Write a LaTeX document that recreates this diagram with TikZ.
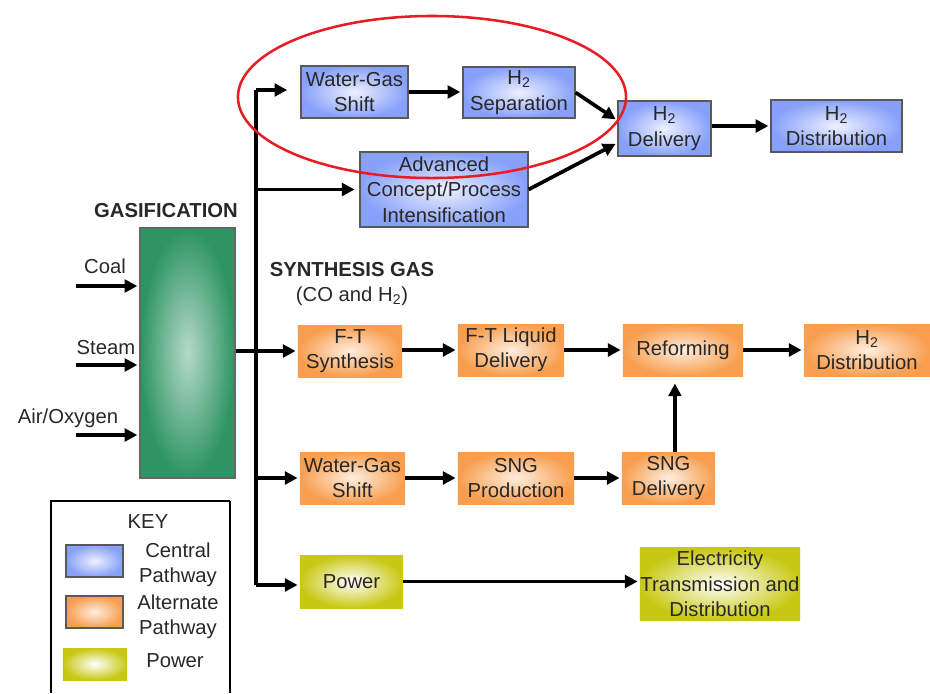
\documentclass[tikz,border=0pt]{standalone}
\usepackage{fontspec}
\setmainfont{Liberation Sans}
\usepackage{tikz}
\usetikzlibrary{shapes,arrows,arrows.meta,positioning,calc}
\usepackage{xcolor}
\definecolor{pathblue}{RGB}{135,160,250}
\definecolor{pathorange}{RGB}{248,158,78}
\definecolor{pathyellow}{RGB}{200,200,20}
\definecolor{gasgreen}{RGB}{45,148,98}
\definecolor{ringred}{RGB}{232,28,36}
\definecolor{textgray}{RGB}{40,40,40}

\tikzset{
    central/.style={rectangle,draw=black!65,line width=0.8pt,inner color=white!85!pathblue,outer color=pathblue,align=center,inner sep=0pt},
    alternate/.style={rectangle,inner color=white!82!pathorange,outer color=pathorange,align=center,inner sep=0pt},
    powerbox/.style={rectangle,inner color=white,outer color=pathyellow,align=center,inner sep=0pt},
    gasifier/.style={rectangle,draw=black!60,line width=0.8pt,inner color=white!65!gasgreen,outer color=gasgreen},
    flow/.style={line width=2.6pt,shorten >=1.5pt,-{Triangle[length=9pt,width=9pt]}},
    pipe/.style={line width=2.6pt},
    heading/.style={font=\fontsize{14.4}{18}\selectfont\bfseries}
}

\begin{document}
\begin{tikzpicture}[x=0.025cm,y=-0.025cm,every node/.style={font=\fontsize{14.4}{18}\selectfont,text=textgray}]
        \useasboundingbox (0,0) rectangle (930,693);

        % Gasifier and feeds
        \node[heading] (gastitle) at (166,211) {GASIFICATION};
        \node[gasifier,minimum width=2.375cm,minimum height=6.25cm] (gas) at (187.5,353) {};
        \coordinate (coal) at (76,286);
        \coordinate (steam) at (76,365);
        \coordinate (air) at (76,435);
        \node (coallbl) at (105,266) {Coal};
        \node (steamlbl) at (106,348) {Steam};
        \node (airlbl) at (68,418) {Air/Oxygen};
        \draw[flow] (coal) -- (coal -| gas.west);
        \draw[flow] (steam) -- (steam -| gas.west);
        \draw[flow] (air) -- (air -| gas.west);

        % Synthesis gas header
        \node[heading] (syngas) at (352,270) {SYNTHESIS GAS};
        \node (syngasnote) at (352,296) {(CO and H\textsubscript{2})};

        % Central pathway
        \node[central,minimum width=2.675cm,minimum height=1.3cm] (wgs) at (354.5,92) {Water-Gas\\Shift};
        \node[central,minimum width=2.8cm,minimum height=1.275cm] (hsep) at (519,92.5) {H\textsubscript{2}\\Separation};
        \node[central,minimum width=4.2cm,minimum height=1.875cm] (adv) at (444,189.5) {Advanced\\Concept/Process\\Intensification};
        \node[central,minimum width=2.325cm,minimum height=1.375cm] (hdel) at (664.5,128.5) {H\textsubscript{2}\\Delivery};
        \node[central,minimum width=3.275cm,minimum height=1.3cm] (hdist) at (836.5,126) {H\textsubscript{2}\\Distribution};

        % Alternate pathways
        \node[alternate,minimum width=2.6cm,minimum height=1.3cm] (ft) at (350,351) {F-T\\Synthesis};
        \node[alternate,minimum width=2.65cm,minimum height=1.3cm] (ftliq) at (511,350) {F-T Liquid\\Delivery};
        \node[alternate,minimum width=3cm,minimum height=1.3cm] (reform) at (683,350) {Reforming};
        \node[alternate,minimum width=3.15cm,minimum height=1.3cm] (hdisttwo) at (867,350) {H\textsubscript{2}\\Distribution};
        \node[alternate,minimum width=2.625cm,minimum height=1.3cm] (wgstwo) at (352.5,478) {Water-Gas\\Shift};
        \node[alternate,minimum width=2.9cm,minimum height=1.3cm] (sngprod) at (516,478) {SNG\\Production};
        \node[alternate,minimum width=2.325cm,minimum height=1.3cm] (sngdel) at (668.5,478) {SNG\\Delivery};

        % Power pathway
        \node[powerbox,minimum width=2.575cm,minimum height=1.325cm] (power) at (351.5,581.5) {Power};
        \node[powerbox,minimum width=4cm,minimum height=1.8cm] (elec) at (720,584) {Electricity\\Transmission and\\Distribution};

        % Syngas header line
        \coordinate (top) at (256,90);
        \coordinate (bot) at (256,585);
        \draw[pipe] (top) -- (bot);
        \draw[pipe] (gas.east |- ft.west) -- (top |- ft.west);
        \draw[flow,shorten >=0.33cm] (top) -- (top -| wgs.west);
        \draw[flow,shorten >=0.12cm] (top |- adv) -- (adv.west);
        \draw[flow] (top |- ft.west) -- (ft.west);
        \draw[flow] (top |- wgstwo) -- (wgstwo.west);
        \draw[flow] (bot) -- (bot -| power.west);

        % Connections
        \draw[flow] (wgs.east) -- (wgs.east -| hsep.west);
        \draw[flow] (hsep.east) -- ([yshift=0.2cm]hdel.west);
        \draw[flow] (adv.east) -- ([yshift=-0.36cm]hdel.west);
        \draw[flow] (hdist.west -| hdel.east) -- (hdist.west);
        \draw[flow] (ftliq.west -| ft.east) -- (ftliq.west);
        \draw[flow] (ftliq.east) -- (reform.west);
        \draw[flow] (reform.east) -- (hdisttwo.west);
        \draw[flow] (wgstwo.east) -- (sngprod.west);
        \draw[flow] (sngprod.east) -- (sngdel.west);
        \draw[flow,shorten >=0.18cm] ([xshift=0.16cm]sngdel.north) -- ([xshift=0.16cm]sngdel.north |- reform.south);
        \draw[flow] (power.east) -- (power.east -| elec.west);

        % Highlight ring
        \draw[ringred,line width=1.8pt] (432,97) ellipse [x radius=4.85cm,y radius=2.025cm];

        % Key
        \draw[line width=1pt] (51,693) -- (51,501) -- (230,501);
        \draw[line width=2pt] (230,501) -- (230,693);
        \node (keytitle) at (148,522) {KEY};
        \node[central,minimum width=1.425cm,minimum height=0.8cm] (keyblue) at (94.5,561) {};
        \node[alternate,draw=black!65,line width=0.8pt,minimum width=1.425cm,minimum height=0.8cm] (keyorange) at (94.5,612) {};
        \node[powerbox,minimum width=1.6cm,minimum height=0.8cm] (keyyellow) at (95,664) {};
        \node[align=center] (keybluelbl) at (178,565) {Central\\Pathway};
        \node[align=center] (keyorangelbl) at (178,617) {Alternate\\Pathway};
        \node (keyyellowlbl) at (175,661) {Power};
\end{tikzpicture}
\end{document}
